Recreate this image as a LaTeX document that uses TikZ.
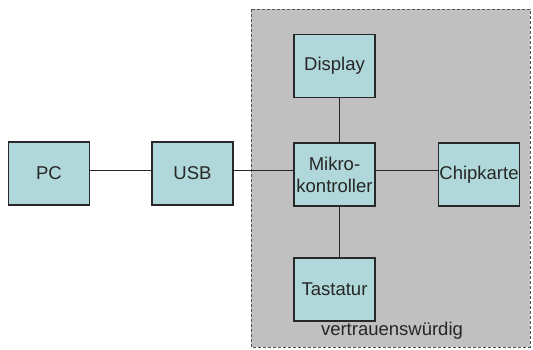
\documentclass[tikz,border=0pt]{standalone}
\usepackage{fontspec}
\setmainfont{Liberation Sans}
\definecolor{boxfill}{RGB}{176,216,218}
\definecolor{zonefill}{RGB}{192,192,192}
\definecolor{edge}{RGB}{40,40,40}
\begin{document}
\begin{tikzpicture}[x=1pt,y=-1pt,
  block/.style={draw=edge,line width=1.1pt,fill=boxfill,minimum width=81pt,minimum height=63pt,
    inner sep=0pt,font=\fontsize{18.5}{22}\selectfont,text=black!85,align=center},
  wire/.style={draw=black!85,line width=1pt}]
\useasboundingbox (0,0) rectangle (533,349);
% trusted zone
\draw[fill=zonefill,draw=edge!80,line width=0.9pt,dash pattern=on 3pt off 2pt] (251,9) rectangle (530,347);
\node[font=\fontsize{18.5}{22}\selectfont,text=black!85] (lbl) at (392,331) {vertrauenswürdig};
% blocks
\node[block] (pc) at (49,173.5) {PC};
\node[block] (usb) at (192.5,173.5) {USB};
\node[block] (mc) at (334.5,174.5) {Mikro-\\kontroller};
\node[block] (disp) at (334.5,66) {Display};
\node[block] (chip) at (479,174.5) {Chipkarte};
\node[block] (tast) at (334.5,289.5) {Tastatur};
% connections
\draw[wire] ([yshift=3.5pt]pc.east) -- ([yshift=3.5pt]usb.west);
\draw[wire] ([yshift=3.5pt]usb.east) -- ([yshift=4.5pt]mc.west);
\draw[wire] ([yshift=4.5pt]mc.east) -- ([yshift=4.5pt]chip.west);
\draw[wire] ([xshift=5pt]disp.south) -- ([xshift=5pt]mc.north);
\draw[wire] ([xshift=5pt]mc.south) -- ([xshift=5pt]tast.north);
\end{tikzpicture}
\end{document}
